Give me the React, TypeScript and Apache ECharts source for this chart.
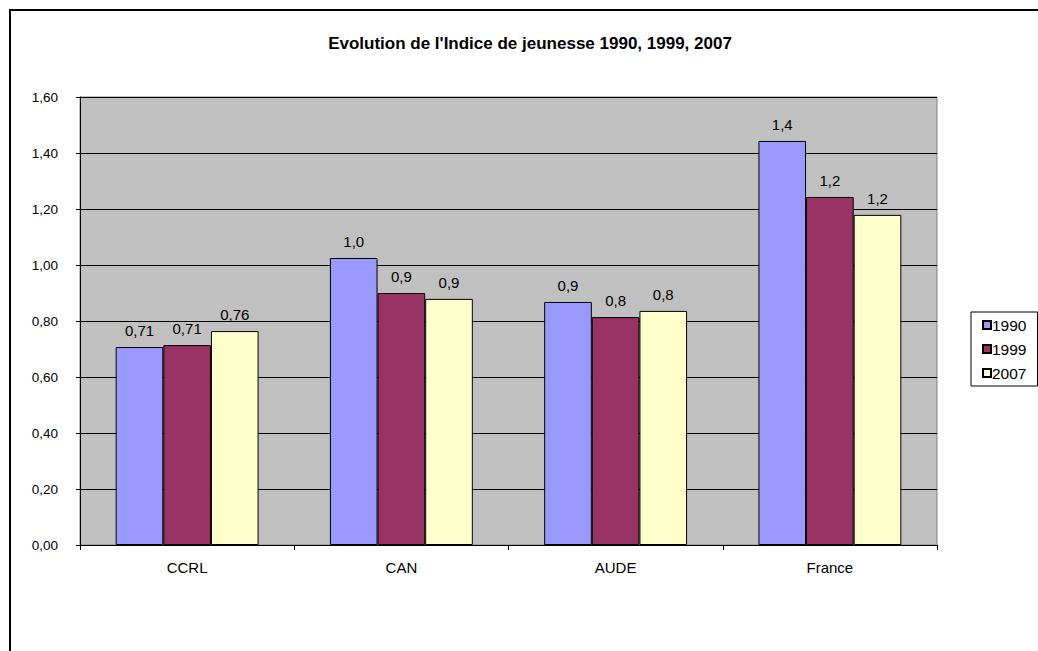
import React, { useEffect, useRef } from "react";
import * as echarts from "echarts";

const categories = ["CCRL", "CAN", "AUDE", "France"];
const labelDecimals = [2, 1, 1, 1];
const s1990 = [0.707, 1.025, 0.868, 1.443];
const s1999 = [0.714, 0.9, 0.814, 1.243];
const s2007 = [0.764, 0.879, 0.836, 1.179];
const seriesNames = ["1990", "1999", "2007"];
const seriesColors = ["#9999FF", "#993366", "#FFFFCC"];
const titleText = "Evolution de l'Indice de jeunesse 1990, 1999, 2007";

const FONT = "Arial, 'Liberation Sans', sans-serif";

export default function App() {
  const ref = useRef<HTMLDivElement>(null);
  useEffect(() => {
    if (!ref.current) return;
    const chart = echarts.init(ref.current, undefined, { renderer: "svg" });
    const data = [s1990, s1999, s2007];
    chart.setOption({
      animation: false,
      backgroundColor: "#FFFFFF",
      title: {
        text: titleText,
        left: 530,
        textAlign: "center",
        top: 35,
        padding: 0,
        textStyle: { fontFamily: FONT, fontSize: 17, fontWeight: "bold", color: "#000" },
      },
      graphic: [
        {
          type: "rect",
          shape: { x: 10, y: 10, width: 1040, height: 660 },
          style: { fill: "none", stroke: "#000", lineWidth: 2 },
          silent: true,
        },
      ],
      legend: {
        orient: "vertical",
        left: 971,
        top: 312,
        data: seriesNames,
        itemWidth: 8,
        itemHeight: 8,
        itemGap: 8,
        icon: "rect",
        padding: [5, 11, 5, 11],
        borderColor: "#000",
        borderWidth: 1,
        textStyle: { fontFamily: FONT, fontSize: 15.5, color: "#000", padding: [0, 0, 0, -4] },
      },
      grid: {
        left: 80,
        top: 97,
        width: 857,
        height: 448,
        show: true,
        backgroundColor: "#C0C0C0",
        borderColor: "#808080",
        borderWidth: 1,
        containLabel: false,
      },
      xAxis: {
        type: "category",
        data: categories,
        axisLine: { show: true, lineStyle: { color: "#000", width: 1 } },
        axisTick: { show: true, length: 5, lineStyle: { color: "#000" } },
        axisLabel: { fontFamily: FONT, fontSize: 15, color: "#000", margin: 15 },
      },
      yAxis: {
        type: "value",
        min: 0,
        max: 1.6,
        interval: 0.2,
        axisLine: { show: true, lineStyle: { color: "#000", width: 1 } },
        axisTick: { show: true, length: 4, inside: false, lineStyle: { color: "#000" } },
        splitLine: { show: true, lineStyle: { color: "#000", width: 1 } },
        axisLabel: {
          fontFamily: FONT,
          fontSize: 13.5,
          color: "#000",
          margin: 22,
          formatter: (v: number) => v.toFixed(2).replace(".", ","),
        },
      },
      series: seriesNames.map((name, i) => ({
        name,
        type: "bar",
        data: data[i],
        barGap: "0%",
        barCategoryGap: "33.3%",
        itemStyle: { color: seriesColors[i], borderColor: "#000", borderWidth: 1 },
        label: {
          show: true,
          position: "top",
          distance: 9,
          fontFamily: FONT,
          fontSize: 15,
          color: "#000",
          formatter: (p: any) => Number(p.value).toFixed(labelDecimals[p.dataIndex]).replace(".", ","),
        },
      })),
    });
    return () => chart.dispose();
  }, []);
  return (
    <div
      ref={ref}
      style={{ position: "fixed", left: 0, top: 0, width: 1038, height: 651 }}
    />
  );
}
